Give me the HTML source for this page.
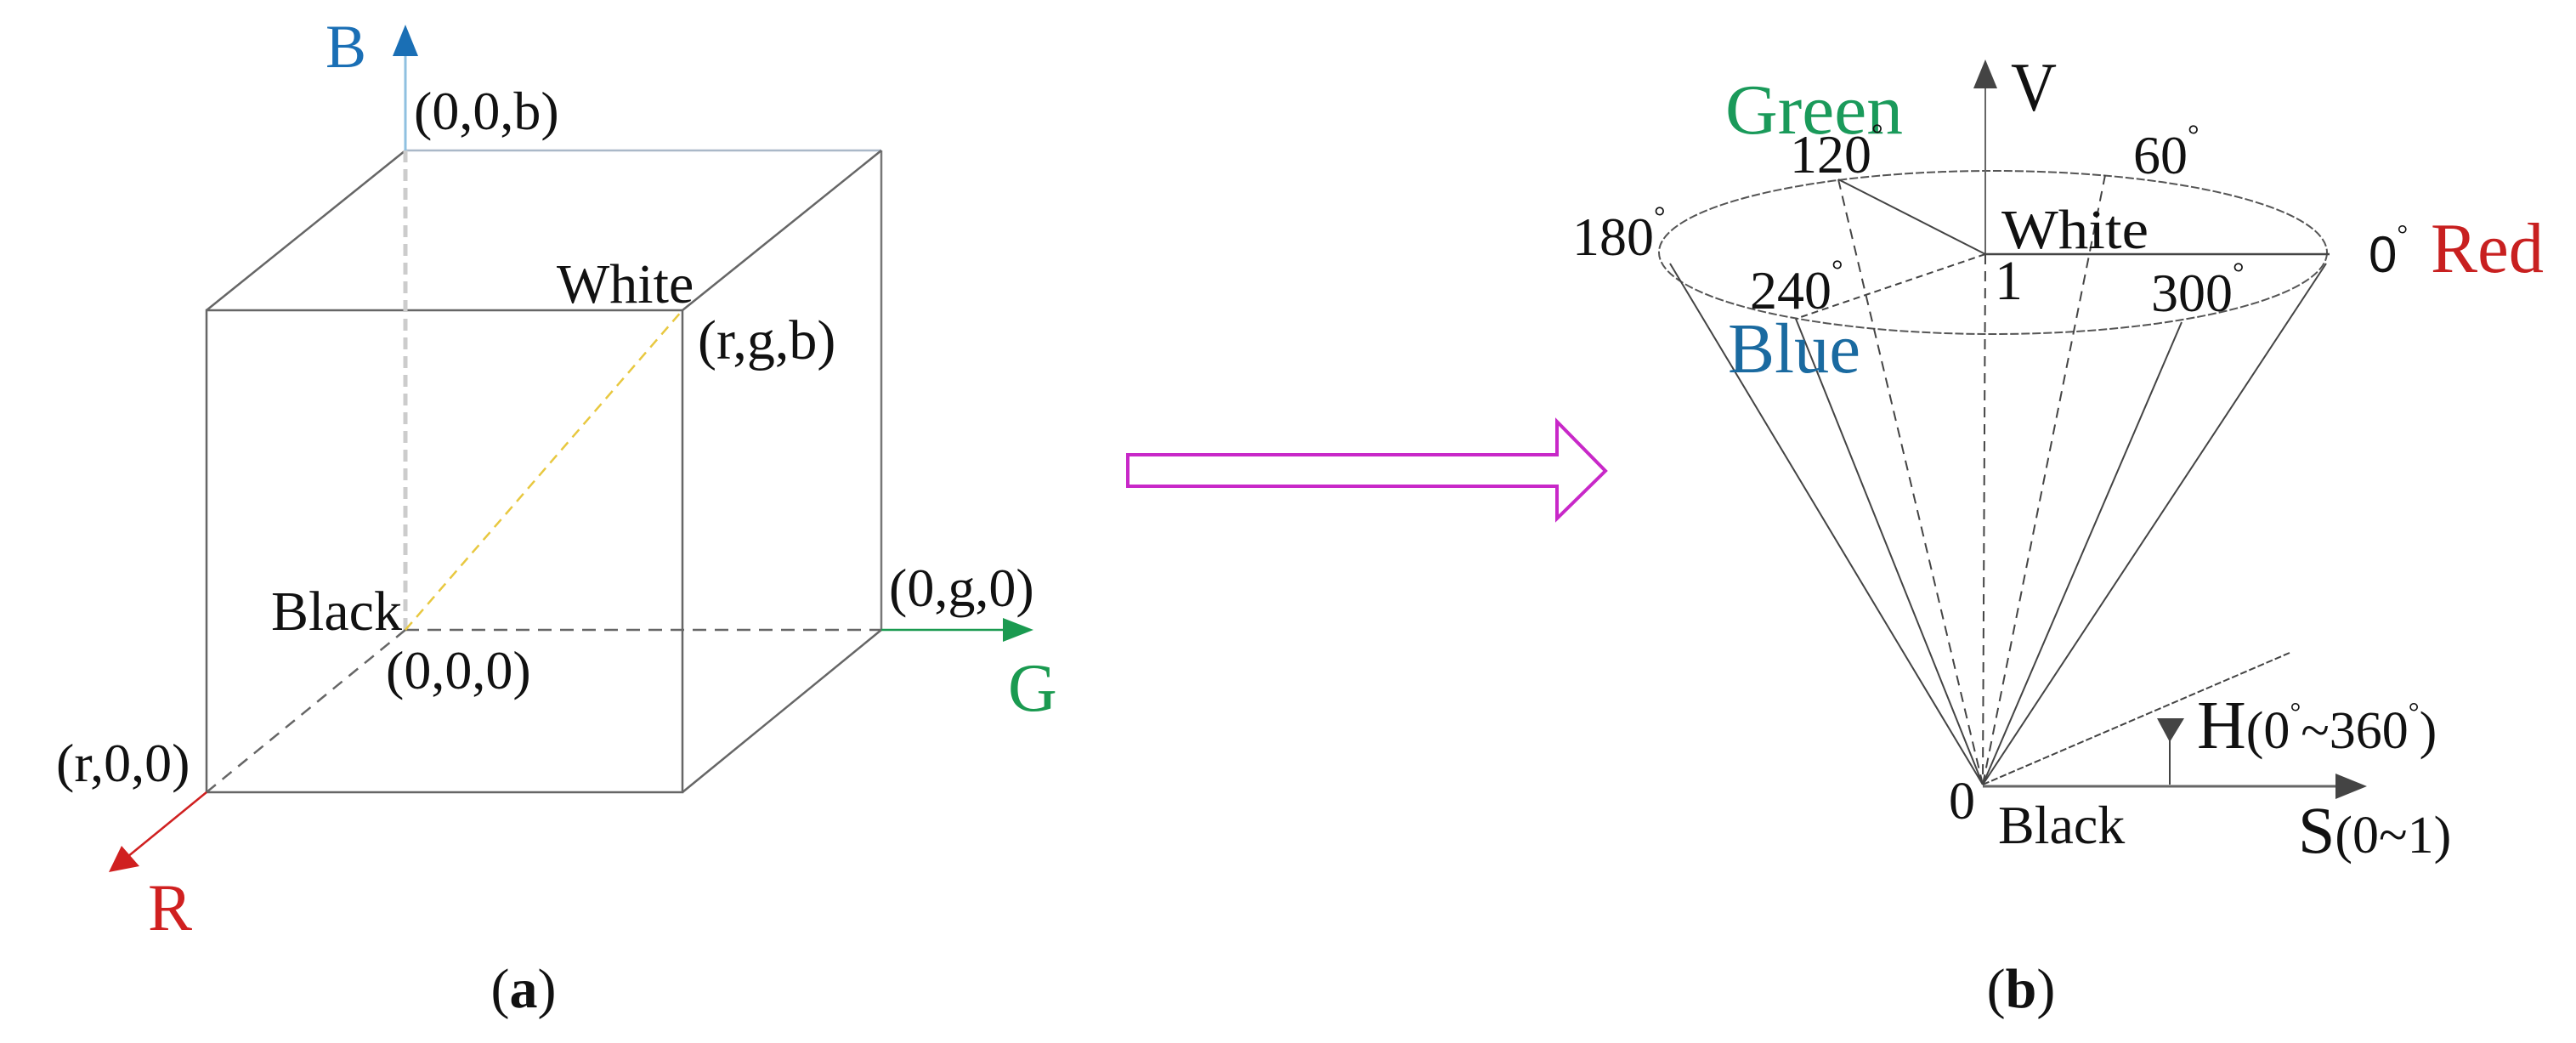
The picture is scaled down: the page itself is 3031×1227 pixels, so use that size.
<!DOCTYPE html>
<html><head><meta charset="utf-8"><style>
html,body{margin:0;padding:0;background:#fff;}
svg{display:block;}
text{font-family:"Liberation Serif",serif;fill:#111;}
</style></head><body>
<svg width="3031" height="1227" viewBox="0 0 3031 1227" xmlns="http://www.w3.org/2000/svg">
<!-- Cube (a) -->
<g fill="none" stroke-width="2.5">
  <line x1="477" y1="177" x2="1037" y2="177" stroke="#aab8c8"/>
  <line x1="1037" y1="177" x2="1037" y2="741" stroke="#777"/>
  <line x1="243" y1="365" x2="477" y2="177" stroke="#666"/>
  <line x1="803" y1="365" x2="1037" y2="177" stroke="#666"/>
  <line x1="803" y1="932" x2="1037" y2="741" stroke="#666"/>
  <rect x="243" y="365" width="560" height="567" stroke="#666"/>
  <line x1="477" y1="177" x2="477" y2="741" stroke="#ccc" stroke-width="5" stroke-dasharray="14,8"/>
  <line x1="477" y1="741" x2="1037" y2="741" stroke="#666" stroke-dasharray="16,10"/>
  <line x1="477" y1="741" x2="243" y2="932" stroke="#666" stroke-dasharray="14,10"/>
  <line x1="477" y1="741" x2="803" y2="365" stroke="#e8c840" stroke-dasharray="12,8"/>
  <line x1="477" y1="177" x2="477" y2="60" stroke="#8fc0e0" stroke-width="3"/>
  <polygon points="477,29 462,66 492,66" fill="#1a6fb5" stroke="none"/>
  <line x1="1037" y1="741" x2="1185" y2="741" stroke="#1a9a50" stroke-width="2.5"/>
  <polygon points="1216,741 1180,727 1180,755" fill="#1a9a50" stroke="none"/>
  <line x1="243" y1="932" x2="150" y2="1008" stroke="#d02020" stroke-width="2.5"/>
  <polygon points="128,1026 143,995 164,1019" fill="#d02020" stroke="none"/>
</g>
<text x="383" y="79" font-size="72" style="fill:#1a6fb5">B</text>
<text x="487" y="152" font-size="64">(0,0,b)</text>
<text x="655" y="356" font-size="66">White</text>
<text x="821" y="422" font-size="66">(r,g,b)</text>
<text x="319" y="741" font-size="66">Black</text>
<text x="454" y="810" font-size="64">(0,0,0)</text>
<text x="66" y="919" font-size="64">(r,0,0)</text>
<text x="1046" y="713" font-size="64">(0,g,0)</text>
<text x="1186" y="836" font-size="80" style="fill:#1a9a50">G</text>
<text x="174" y="1094" font-size="78" style="fill:#d02020">R</text>
<text x="616" y="1185" font-size="66" text-anchor="middle">(<tspan font-weight="bold">a</tspan>)</text>

<!-- Magenta hollow arrow -->
<polygon points="1327,535 1832,535 1832,496 1889,554 1832,610 1832,572 1327,572" fill="none" stroke="#c828c8" stroke-width="4"/>

<!-- Cone (b) -->
<g fill="none" stroke="#444" stroke-width="2">
  <ellipse cx="2345" cy="297" rx="393" ry="96" stroke="#555" stroke-dasharray="10,3"/>
  <line x1="2336" y1="299" x2="2336" y2="100" stroke="#666"/>
  <polygon points="2336,70 2322,104 2350,104" fill="#444" stroke="none"/>
  <line x1="2336" y1="299" x2="2333" y2="923" stroke-dasharray="12,8"/>
  <line x1="2333" y1="923" x2="1965" y2="310"/>
  <line x1="2333" y1="923" x2="2113" y2="375"/>
  <line x1="2333" y1="923" x2="2567" y2="379"/>
  <line x1="2333" y1="923" x2="2737" y2="310"/>
  <line x1="2333" y1="923" x2="2163" y2="211" stroke-dasharray="12,8"/>
  <line x1="2333" y1="923" x2="2477" y2="206" stroke-dasharray="12,8"/>
  <line x1="2336" y1="299" x2="2163" y2="211"/>
  <line x1="2336" y1="299" x2="2113" y2="375" stroke-dasharray="8,5"/>
  <line x1="2336" y1="299" x2="2741" y2="299" stroke-width="2.5"/>
  <line x1="2333" y1="923" x2="2694" y2="768" stroke-dasharray="8,3"/>
  <line x1="2333" y1="925" x2="2755" y2="925" stroke="#666" stroke-width="3"/>
  <polygon points="2785,925 2748,910 2748,940" fill="#444" stroke="none"/>
  <line x1="2553" y1="923" x2="2553" y2="870" stroke-width="2"/>
  <polygon points="2553,873 2538,845 2570,845" fill="#444" stroke="none"/>
</g>
<text x="2030" y="157" font-size="84" textLength="209" lengthAdjust="spacingAndGlyphs" style="fill:#1a9a5a">Green</text>
<text x="2366" y="130" font-size="82" textLength="54" lengthAdjust="spacingAndGlyphs">V</text>
<text x="2106" y="203" font-size="64">120<tspan font-size="34" dy="-34">°</tspan></text>
<text x="2510" y="204" font-size="64">60<tspan font-size="34" dy="-34">°</tspan></text>
<text x="1850" y="300" font-size="64">180<tspan font-size="34" dy="-34">°</tspan></text>
<text x="2355" y="292" font-size="66" textLength="173" lengthAdjust="spacingAndGlyphs">White</text>
<text x="2347" y="352" font-size="66">1</text>
<text x="2059" y="363" font-size="64">240<tspan font-size="34" dy="-34">°</tspan></text>
<text x="2531" y="366" font-size="64">300<tspan font-size="34" dy="-34">°</tspan></text>
<text x="2787" y="320" font-size="60" style="font-family:'Liberation Sans',sans-serif">0<tspan font-size="32" dy="-34" style="font-family:'Liberation Serif',serif">°</tspan></text>
<text x="2860" y="320" font-size="84" textLength="133" lengthAdjust="spacingAndGlyphs" style="fill:#c82020">Red</text>
<text x="2033" y="438" font-size="84" textLength="156" lengthAdjust="spacingAndGlyphs" style="fill:#1a6aa0">Blue</text>
<text x="2585" y="880" font-size="80">H<tspan font-size="62">(0<tspan font-size="32" dy="-32">°</tspan><tspan dy="32">~360</tspan><tspan font-size="32" dy="-32">°</tspan><tspan dy="32">)</tspan></tspan></text>
<text x="2704" y="1003" font-size="78">S<tspan font-size="62">(0~1)</tspan></text>
<text x="2293" y="963" font-size="62">0</text>
<text x="2351" y="992" font-size="64">Black</text>
<text x="2378" y="1185" font-size="66" text-anchor="middle">(<tspan font-weight="bold">b</tspan>)</text>
</svg>
</body></html>
